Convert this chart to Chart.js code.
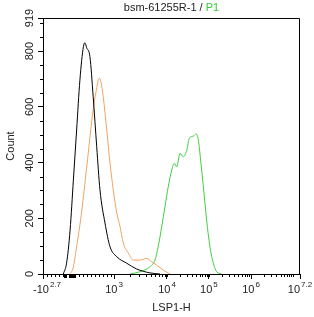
<!DOCTYPE html>
<html><head><meta charset="utf-8">
<script src="https://cdn.jsdelivr.net/npm/chart.js@4/dist/chart.umd.min.js"></script>
<style>html,body{margin:0;padding:0;background:#fff;overflow:hidden}</style>
</head><body>
<canvas id="c" width="314" height="317"></canvas>
<script>
// ---- text ----
const titleMain = 'bsm-61255R-1 / ';
const titleGate = 'P1';
const xTitle = 'LSP1-H';
const yTitle = 'Count';

// ---- axis ticks (x in display channel units 0..1024) ----
const xTickChannels = [0, 283, 494, 661, 829, 1024];
const xTickBases = ['-10', '10', '10', '10', '10', '10'];
const xTickExps = ['2.7', '3', '4', '5', '6', '7.2'];
const xLinearMinor = [16, 32, 48, 64, 80, 143, 159, 175, 191, 207, 223, 239, 255, 271];
const xDenseMinor = [84, 86, 88, 90, 92, 104, 106, 108, 110, 112, 114, 116, 118, 120, 122, 124, 126];
const yTicks = [0, 200, 400, 600, 800, 919];

// ---- series (x = display channel, y = count) ----
const blackCh = [81, 94, 108, 121, 134, 147, 161, 167, 174, 187, 200, 214, 227, 247, 267, 294, 333, 373, 426, 466];
const blackCount = [0, 39, 158, 337, 517, 696, 816, 830, 812, 780, 636, 457, 302, 183, 98, 62, 39, 18, 4, 0];

const orangeCh = [108, 120, 134, 147, 161, 183, 198, 211, 224, 231, 240, 254, 267, 280, 294, 307, 320, 340, 360, 386, 413, 433, 453, 479, 506];
const orangeCount = [0, 22, 98, 176, 277, 457, 578, 653, 703, 689, 636, 517, 398, 302, 219, 170, 111, 75, 50, 50, 56, 44, 32, 14, 0];

const greenCh = [347, 386, 426, 446, 459, 473, 486, 499, 513, 523, 533, 546, 559, 573, 583, 599, 610, 619, 628, 639, 652, 665, 679, 692, 712];
const greenCount = [0, 8, 26, 50, 98, 170, 242, 313, 373, 397, 385, 433, 421, 445, 487, 495, 503, 481, 409, 313, 194, 98, 38, 8, 0];

const FONT = 'Liberation Sans, Arial, sans-serif';
const TXT = '#222';

function pts(xs, ys) { return xs.map((x, i) => ({ x: x, y: ys[i] })); }

// minor ticks for log decades, from the major tick channels
function decadeMinors() {
  const out = [];
  for (let d = 1; d <= 4; d++) {
    const a = xTickChannels[d];
    const b = d < 4 ? xTickChannels[d + 1] : xTickChannels[4] + (xTickChannels[4] - xTickChannels[3]);
    for (let k = 2; k <= 10; k++) {
      const v = a + (b - a) * Math.log10(k);
      if (v < 1024) out.push(v);
    }
  }
  return out;
}

const decor = {
  id: 'decor',
  afterDraw(chart) {
    const ctx = chart.ctx, ca = chart.chartArea;
    const xs = chart.scales.x, ys = chart.scales.y;
    ctx.save();
    ctx.strokeStyle = '#000';
    ctx.lineWidth = 1;
    // frame top/right
    ctx.beginPath();
    ctx.moveTo(Math.round(ca.left) + 0.5, Math.round(ca.top) + 0.5);
    ctx.lineTo(Math.round(ca.right) - 0.5, Math.round(ca.top) + 0.5);
    ctx.lineTo(Math.round(ca.right) - 0.5, Math.round(ca.bottom) + 0.5);
    ctx.stroke();
    // minor ticks x
    ctx.beginPath();
    xLinearMinor.concat(decadeMinors()).forEach(v => {
      const px = Math.round(xs.getPixelForValue(v)) + 0.5;
      ctx.moveTo(px, ca.bottom);
      ctx.lineTo(px, ca.bottom + 3);
    });
    // minor ticks y
    for (let v = 50; v < 919; v += 50) {
      if (v % 200 === 0) continue;
      const py = Math.round(ys.getPixelForValue(v)) + 0.5;
      ctx.moveTo(ca.left - 3, py);
      ctx.lineTo(ca.left, py);
    }
    ctx.stroke();
    // dense tick clusters
    ctx.beginPath();
    xDenseMinor.forEach(v => {
      const px = Math.round(xs.getPixelForValue(v)) + 0.5;
      ctx.moveTo(px, ca.bottom);
      ctx.lineTo(px, ca.bottom + 4);
    });
    ctx.stroke();
    // x tick labels with superscripts
    ctx.fillStyle = TXT;
    ctx.textBaseline = 'alphabetic';
    ctx.textAlign = 'left';
    xTickChannels.forEach((v, i) => {
      const px = xs.getPixelForValue(v);
      ctx.font = '11px ' + FONT;
      const wb = ctx.measureText(xTickBases[i]).width;
      ctx.font = '8px ' + FONT;
      const we = ctx.measureText(xTickExps[i]).width;
      let x0 = px - (wb + we + 1) / 2;
      if (i === 0) x0 = px - 10;
      ctx.font = '11px ' + FONT;
      ctx.fillText(xTickBases[i], x0, 293);
      ctx.font = '8px ' + FONT;
      ctx.fillText(xTickExps[i], x0 + wb + 1, 287);
    });
    // title
    ctx.font = '11px ' + FONT;
    const w1 = ctx.measureText(titleMain).width;
    const w2 = ctx.measureText(titleGate).width;
    const tx = (ca.left + ca.right) / 2 - (w1 + w2) / 2;
    ctx.textBaseline = 'middle';
    ctx.fillStyle = TXT;
    ctx.fillText(titleMain, tx, 8);
    ctx.fillStyle = '#33cc33';
    ctx.fillText(titleGate, tx + w1, 8);
    ctx.restore();
  }
};

new Chart(document.getElementById('c'), {
  type: 'line',
  data: {
    datasets: [
      { data: pts(blackCh, blackCount), borderColor: '#000000', borderWidth: 1, pointRadius: 0, cubicInterpolationMode: 'monotone', fill: false },
      { data: pts(orangeCh, orangeCount), borderColor: '#f2a262', borderWidth: 1, pointRadius: 0, cubicInterpolationMode: 'monotone', fill: false },
      { data: pts(greenCh, greenCount), borderColor: '#3fcf3f', borderWidth: 1, pointRadius: 0, cubicInterpolationMode: 'monotone', fill: false }
    ]
  },
  options: {
    responsive: false,
    animation: false,
    devicePixelRatio: 1,
    layout: { padding: { top: 18, right: 14, left: 0, bottom: 0 } },
    plugins: { legend: { display: false }, tooltip: { enabled: false }, title: { display: false } },
    scales: {
      x: {
        type: 'linear', min: 0, max: 1024,
        afterBuildTicks: s => { s.ticks = xTickChannels.map(v => ({ value: v })); },
        afterFit: s => { s.height = 43; },
        grid: { drawOnChartArea: false, drawTicks: true, tickLength: 5, color: '#000' },
        border: { display: true, color: '#000', width: 1 },
        ticks: { display: false },
        title: { display: true, text: xTitle, color: TXT, font: { family: FONT, size: 11 }, padding: { top: 0, bottom: 2 } }
      },
      y: {
        type: 'linear', min: 0, max: 919,
        afterBuildTicks: s => { s.ticks = yTicks.map(v => ({ value: v })); },
        afterFit: s => { s.width = 43; },
        grid: { drawOnChartArea: false, drawTicks: true, tickLength: 5, color: '#000' },
        border: { display: true, color: '#000', width: 1 },
        ticks: { minRotation: 90, maxRotation: 90, crossAlign: 'center', padding: -1, color: TXT, font: { family: FONT, size: 11 } },
        title: { display: true, text: yTitle, color: TXT, font: { family: FONT, size: 11 }, padding: { top: 4, bottom: 0 } }
      }
    }
  },
  plugins: [decor]
});
</script>
</body></html>
